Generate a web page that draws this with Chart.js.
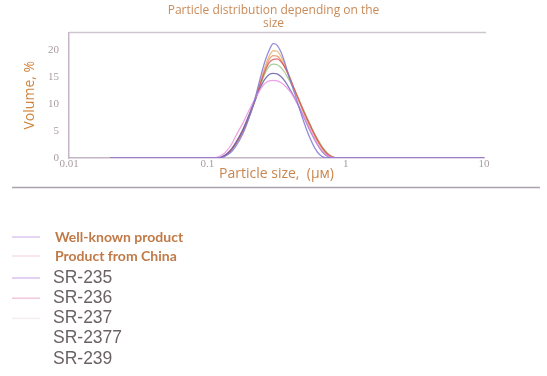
<!DOCTYPE html>
<html>
<head>
<meta charset="utf-8">
<script src="https://cdn.jsdelivr.net/npm/chart.js@4.4.0/dist/chart.umd.min.js"></script>
<style>
    html, body { margin: 0; padding: 0; background: #fff; }
</style>
</head>
<body>
<canvas id="chart" width="547" height="376"></canvas>
<script>
// particle size, um (log axis)
const sizes = [0.02, 0.1, 0.11, 0.12, 0.13, 0.14, 0.15, 0.16, 0.18, 0.2, 0.22, 0.24, 0.26, 0.28, 0.3, 0.32, 0.34, 0.36, 0.38, 0.4, 0.43, 0.46, 0.5, 0.55, 0.6, 0.65, 0.7, 0.75, 0.8, 0.85, 0.9, 1, 10]

// volume, %
const wellKnown = [0, 0, 0, 0, 0.2, 0.6, 1.2, 2.1, 4.4, 7.4, 10.8, 14.6, 17.8, 20.0, 21.2, 20.9, 19.7, 18.0, 16.0, 14.2, 11.8, 9.4, 6.6, 3.8, 1.8, 0.6, 0.1, 0, 0, 0, 0, 0, 0]
const chinaProduct = [0, 0, 0, 0.2, 0.7, 1.5, 2.6, 4.0, 6.4, 8.8, 10.9, 12.6, 13.8, 14.3, 14.4, 14.3, 14.0, 13.5, 12.9, 12.2, 10.9, 9.5, 7.6, 5.4, 3.4, 1.9, 0.9, 0.35, 0.1, 0, 0, 0, 0]
const sr235 = [0, 0, 0, 0, 0.3, 0.9, 1.7, 2.8, 5.2, 8.0, 10.6, 12.9, 14.6, 15.5, 15.7, 15.6, 15.1, 14.4, 13.5, 12.5, 11.0, 9.5, 7.5, 5.2, 3.3, 1.8, 0.8, 0.25, 0.05, 0, 0, 0, 0]
const sr236 = [0, 0, 0, 0, 0.25, 0.8, 1.6, 2.6, 4.9, 7.6, 10.5, 13.5, 16.0, 17.7, 18.3, 18.4, 17.9, 17.0, 15.8, 14.5, 12.5, 10.7, 8.5, 6.2, 4.2, 2.6, 1.4, 0.6, 0.2, 0.04, 0, 0, 0]
const sr237 = [0, 0, 0, 0, 0.3, 0.9, 1.7, 2.7, 5.0, 7.8, 10.8, 14.0, 16.8, 18.9, 19.9, 19.8, 18.9, 17.6, 16.1, 14.6, 12.4, 10.5, 8.2, 5.9, 4.0, 2.4, 1.2, 0.5, 0.15, 0, 0, 0, 0]
const sr2377 = [0, 0, 0, 0, 0.3, 0.9, 1.7, 2.7, 5.1, 7.8, 10.7, 13.7, 16.4, 18.3, 19.0, 18.9, 18.2, 17.1, 15.8, 14.4, 12.4, 10.6, 8.4, 6.1, 4.1, 2.5, 1.3, 0.55, 0.18, 0.03, 0, 0, 0]
const sr239 = [0, 0, 0, 0, 0.2, 0.7, 1.5, 2.5, 4.8, 7.5, 10.4, 13.2, 15.6, 17.0, 17.4, 17.3, 16.8, 16.0, 15.0, 14.0, 12.4, 10.8, 8.7, 6.4, 4.4, 2.8, 1.6, 0.75, 0.28, 0.06, 0, 0, 0]

const seriesNames = ["Well-known product", "Product from China", "SR-235", "SR-236", "SR-237", "SR-2377", "SR-239"]
const seriesValues = [wellKnown, chinaProduct, sr235, sr236, sr237, sr2377, sr239]

const xTicks = [0.01, 0.1, 1, 10]
const yTicks = [0, 5, 10, 15, 20]

// styles
const lineColors = ["rgba(128,120,214,0.85)", "rgba(236,146,232,0.85)", "rgba(104,98,170,0.85)", "rgba(216,80,84,0.8)", "rgba(230,182,120,0.85)", "rgba(234,140,92,0.8)", "rgba(150,200,136,0.85)"]
const legendLineColors = ["#dcc6ee", "#f7e0ec", "#d8c2ee", "#f3c6dc", "#f6eeee", null, null]

const frameColor = "#c4b6c6"

const extrasPlugin = {
    id: "extras",
    afterDraw: (chart) => {
        const ctx = chart.ctx
        const { left, right, top } = chart.chartArea
        ctx.save()
        // top border of the plot
        ctx.strokeStyle = "#cfc5d0"
        ctx.lineWidth = 1.5
        ctx.beginPath()
        ctx.moveTo(left, top)
        ctx.lineTo(right + 2, top)
        ctx.stroke()
        // separator under the chart
        ctx.strokeStyle = "#ada0b0"
        ctx.lineWidth = 1.5
        ctx.beginPath()
        ctx.moveTo(12, 187.5)
        ctx.lineTo(540, 187.5)
        ctx.stroke()

        // legend
        chart.data.datasets.forEach((ds, i) => {
            const bold = i < 2
            const y = bold ? 237 + i * 19 : 278 + (i - 2) * 20.2
            if (legendLineColors[i]) {
                ctx.strokeStyle = legendLineColors[i]
                ctx.lineWidth = 1.5
                ctx.beginPath()
                ctx.moveTo(12, y)
                ctx.lineTo(40, y)
                ctx.stroke()
            }
            ctx.textBaseline = "middle"
            ctx.textAlign = "left"
            if (bold) {
                ctx.font = "bold 14px Lato"
                ctx.fillStyle = "#c07a48"
                ctx.fillText(ds.label, 55, y)
            } else {
                ctx.font = '17.5px "Liberation Sans"'
                ctx.fillStyle = "#6b6266"
                ctx.fillText(ds.label, 53, y)
            }
        })
        ctx.restore()
    },
}

new Chart(document.getElementById("chart"), {
    type: "line",
    data: {
        datasets: seriesNames.map((name, i) => ({
            label: name,
            data: sizes.map((x, j) => ({ x, y: seriesValues[i][j] })),
            borderColor: lineColors[i],
            borderWidth: 1.3,
            pointRadius: 0,
            fill: false,
            cubicInterpolationMode: "monotone",
        })),
    },
    plugins: [extrasPlugin],
    options: {
        responsive: false,
        animation: false,
        layout: {
            padding: { left: 0, right: 0, top: 0, bottom: 188 },
        },
        plugins: {
            legend: { display: false },
            tooltip: { enabled: false },
            title: {
                display: true,
                text: ["Particle distribution depending on the", "size"],
                color: "#c98a58",
                font: { family: "Open Sans", size: 12, weight: "normal", lineHeight: 1.1 },
                padding: { top: 4, bottom: 2 },
            },
        },
        scales: {
            x: {
                type: "logarithmic",
                min: 0.01,
                max: 10,
                grid: { display: false, drawTicks: false },
                border: { color: frameColor, width: 1.5 },
                afterBuildTicks: (scale) => {
                    scale.ticks = xTicks.map((v) => ({ value: v }))
                },
                afterFit: (scale) => {
                    scale.height = 30
                },
                ticks: {
                    padding: 0,
                    color: "#a89ca2",
                    font: { family: "Liberation Serif", size: 11 },
                    callback: (value) => String(value),
                },
                title: {
                    display: true,
                    text: "Particle size,  (μм)",
                    color: "#c8864e",
                    font: { family: "Open Sans", size: 14 },
                    padding: { top: 0, bottom: 6 },
                },
            },
            y: {
                min: 0,
                max: 23.3,
                grid: { display: false, drawTicks: false },
                border: { color: frameColor, width: 1.5 },
                afterBuildTicks: (scale) => {
                    scale.ticks = yTicks.map((v) => ({ value: v }))
                },
                afterFit: (scale) => {
                    scale.width = 69
                },
                ticks: {
                    padding: 10,
                    color: "#a89ca2",
                    font: { family: "Liberation Serif", size: 11 },
                },
                title: {
                    display: true,
                    text: "Volume, %",
                    color: "#d0843c",
                    font: { family: "Open Sans", size: 14 },
                    padding: { top: 22, bottom: 0 },
                },
            },
            yRight: {
                position: "right",
                display: true,
                grid: { display: false, drawTicks: false },
                border: { display: false },
                ticks: { display: false },
                afterFit: (scale) => {
                    scale.width = 63
                },
            },
        },
    },
})
</script>
</body>
</html>
